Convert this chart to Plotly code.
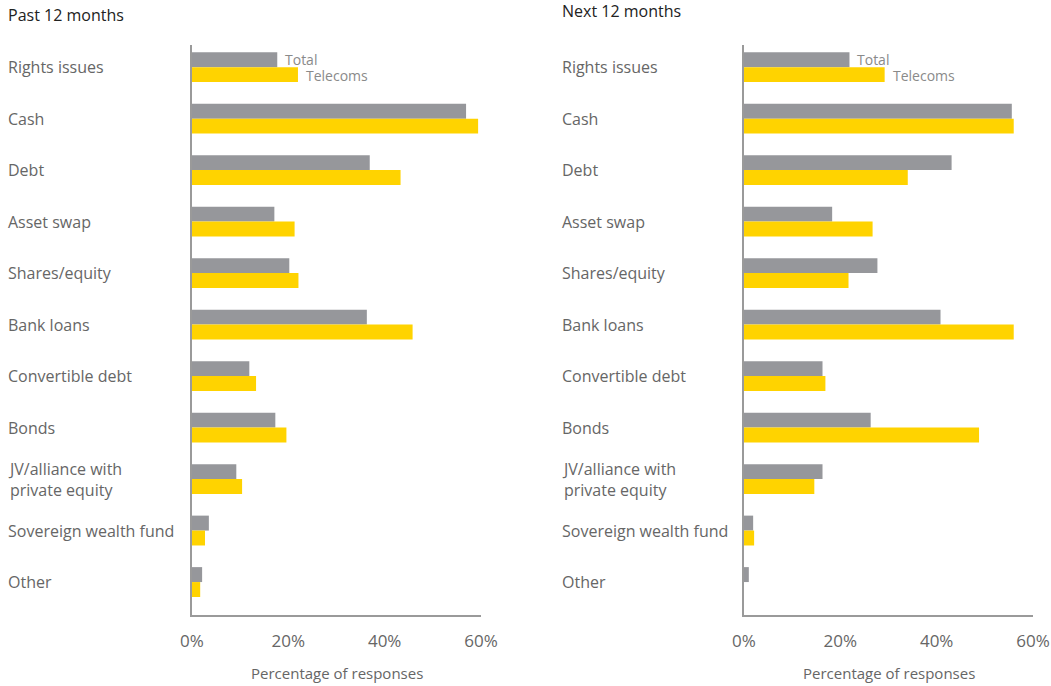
import plotly.graph_objects as go

categories = ["Rights issues", "Cash", "Debt", "Asset swap", "Shares/equity", "Bank loans",
              "Convertible debt", "Bonds", "JV/alliance with<br>private equity",
              "Sovereign wealth fund", "Other"]
past_total = [17.7, 56.9, 36.9, 17.1, 20.2, 36.3, 11.9, 17.3, 9.2, 3.5, 2.1]
past_telecoms = [22.0, 59.4, 43.3, 21.3, 22.1, 45.8, 13.3, 19.6, 10.4, 2.7, 1.7]
next_total = [21.9, 55.6, 43.1, 18.3, 27.7, 40.8, 16.3, 26.3, 16.3, 1.9, 1.0]
next_telecoms = [29.2, 56.0, 34.0, 26.7, 21.7, 56.0, 16.9, 48.8, 14.6, 2.1, 0.0]
tick_vals = [0, 20, 40, 60]
tick_text = ["0%", "20%", "40%", "60%"]
panel_titles = ["Past 12 months", "Next 12 months"]
series_names = ["Total", "Telecoms"]
x_title = "Percentage of responses"

GREY = "#96979b"
YELLOW = "#ffd300"
TEXT = "#666666"
FONT = "Open Sans"
W, H = 1051, 686

fig = go.Figure()
panels = [(past_total, past_telecoms, "x", "y"), (next_total, next_telecoms, "x2", "y2")]
for tot, tel, xa, ya in panels:
    fig.add_trace(go.Bar(y=categories, x=tot, orientation="h", marker=dict(color=GREY, line=dict(width=0)),
                         name=series_names[0], xaxis=xa, yaxis=ya, showlegend=False))
    fig.add_trace(go.Bar(y=categories, x=tel, orientation="h", marker=dict(color=YELLOW, line=dict(width=0)),
                         name=series_names[1], xaxis=xa, yaxis=ya, showlegend=False))

ydom = [1 - 615 / H, 1 - 45 / H]
xdoms = [[192 / W, 481 / W], [744 / W, 1033 / W]]
yrange = [10.64, -0.43]

axis_common_x = dict(range=[0, 60], tickvals=tick_vals, ticktext=tick_text, showgrid=False, zeroline=False,
                     showline=True, linecolor="#9a9a9a", linewidth=2, ticks="outside", ticklen=10,
                     tickcolor="rgba(0,0,0,0)", tickfont=dict(family=FONT, size=17, color=TEXT),
                     fixedrange=True, automargin=False)
axis_common_y = dict(type="category", categoryorder="array", categoryarray=categories, range=yrange,
                     showticklabels=False, showgrid=False, zeroline=False, showline=True,
                     linecolor="#9a9a9a", linewidth=2, ticks="", automargin=False, domain=ydom,
                     fixedrange=True)

fig.update_layout(
    width=W, height=H,
    margin=dict(l=0, r=0, t=0, b=0),
    paper_bgcolor="white", plot_bgcolor="white",
    barmode="group", bargap=0.42, bargroupgap=0,
    xaxis=dict(domain=xdoms[0], anchor="y", **axis_common_x),
    yaxis=dict(anchor="x", **axis_common_y),
    xaxis2=dict(domain=xdoms[1], anchor="y2", **axis_common_x),
    yaxis2=dict(anchor="x2", **axis_common_y),
)

annotations = []
label_x = [6 / W, 560 / W]
title_y = [1 - 15 / H, 1 - 11 / H]
for p in range(2):
    annotations.append(dict(text=panel_titles[p], xref="paper", yref="paper", x=label_x[p], y=title_y[p],
                            xanchor="left", yanchor="middle", showarrow=False,
                            font=dict(family=FONT, size=16, color="#222222")))
    for c in categories:
        annotations.append(dict(text=c, xref="paper", yref="y" if p == 0 else "y2", x=label_x[p], y=c,
                                xanchor="left", yanchor="middle", align="left", showarrow=False,
                                font=dict(family=FONT, size=16, color=TEXT)))
    annotations.append(dict(text=x_title, xref="x" if p == 0 else "x2", yref="paper", x=30, y=1 - 673 / H,
                            xanchor="center", yanchor="middle", showarrow=False,
                            font=dict(family=FONT, size=15, color=TEXT)))
    tot, tel = panels[p][0], panels[p][1]
    xr = "x" if p == 0 else "x2"
    yr = "y" if p == 0 else "y2"
    annotations.append(dict(text=series_names[0], xref=xr, yref=yr, x=tot[0], y=categories[0], xshift=6,
                            yshift=8, xanchor="left", yanchor="middle", showarrow=False,
                            font=dict(family=FONT, size=14, color="#8a8a8a")))
    annotations.append(dict(text=series_names[1], xref=xr, yref=yr, x=tel[0], y=categories[0], xshift=6,
                            yshift=-8, xanchor="left", yanchor="middle", showarrow=False,
                            font=dict(family=FONT, size=14, color="#8a8a8a")))

fig.update_layout(annotations=annotations)
fig.write_html("out.html", config={"displayModeBar": False},
               post_script="document.body.style.margin='0';document.body.style.overflow='hidden';")
